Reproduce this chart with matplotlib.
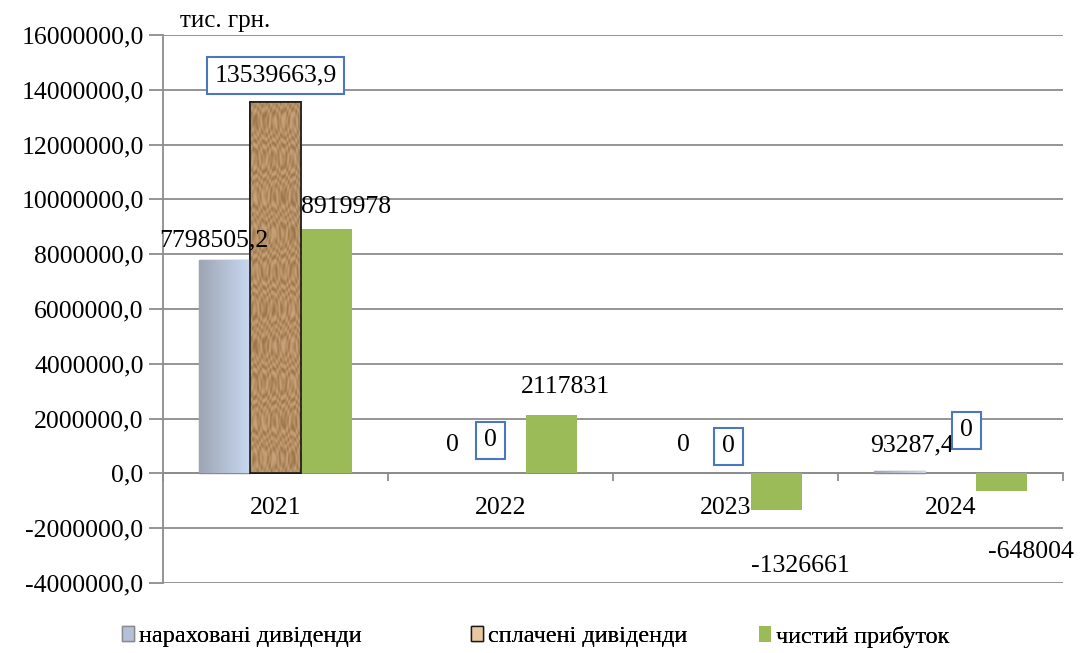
import numpy as np
import matplotlib
matplotlib.use('Agg')
import matplotlib.pyplot as plt
from matplotlib.patches import Patch

plt.rcParams['font.family'] = ['Liberation Serif', 'DejaVu Serif']

# дані
years = ['2021', '2022', '2023', '2024']
narakhovani = [7798505.2, 0, 0, 93287.4]
splacheni = [13539663.9, 0, 0, 0]
prybutok = [8919978, 2117831, -1326661, -648004]

lab_narakh = ['7798505,2', '0', '0', '93287,4']
lab_splach = ['13539663,9', '0', '0', '0']
lab_prybut = ['8919978', '2117831', '-1326661', '-648004']

yticks = np.arange(-4000000, 16000001, 2000000)

fig = plt.figure(figsize=(10.84, 6.53), dpi=100)
ax = fig.add_axes([0.1504, 0.1072, 0.8302, 0.8392])

x = np.arange(len(years))
w = 0.227
b1 = ax.bar(x - w, narakhovani, w, color='#b4c0d8', edgecolor='#8a8a8a', lw=1, zorder=3)
b2 = ax.bar(x, splacheni, w, color='#b08a60', edgecolor='#1a1a1a', lw=1.2, zorder=3)
b3 = ax.bar(x + w, prybutok, w, color='#9bbb59', edgecolor='none', zorder=3)
for r in list(b1) + list(b2):
    if r.get_height() == 0:
        r.set_edgecolor('none')

# градієнт для нарахованих дивідендів
grad = np.linspace(0, 1, 64).reshape(1, -1)
cmap = matplotlib.colors.LinearSegmentedColormap.from_list('g', ['#9ea6b4', '#c9d8f2'])
for r in b1:
    if r.get_height() == 0:
        continue
    x0, y0 = r.get_x(), r.get_y()
    im = ax.imshow(grad, cmap=cmap, aspect='auto', zorder=3.5,
                   extent=(x0, x0 + r.get_width(), y0, y0 + r.get_height()))
    im.set_clip_path(r)

# "зім'ята" текстура для сплачених дивідендів
tx, ty = np.meshgrid(np.linspace(0, 1, 60), np.linspace(0, 1, 300))
tex = np.sin(23 * tx + 9 * np.sin(31 * ty)) * np.cos(41 * ty + 5 * np.sin(17 * tx))
tcmap = matplotlib.colors.LinearSegmentedColormap.from_list('t', ['#9c7448', '#b48e64', '#c9a47a'])
for r in b2:
    if r.get_height() == 0:
        continue
    x0, y0 = r.get_x(), r.get_y()
    im = ax.imshow(tex, cmap=tcmap, aspect='auto', zorder=3.5,
                   extent=(x0, x0 + r.get_width(), y0, y0 + r.get_height()))
    im.set_clip_path(r)
    ax.bar(r.get_x() + r.get_width() / 2, r.get_height(), r.get_width(), fill=False,
           edgecolor='#1a1a1a', lw=1.2, zorder=3.6)

ax.set_xlim(-0.5, 3.5)
ax.set_ylim(-4000000, 16000000)
ax.set_yticks(yticks)
ax.set_yticklabels([f'{v:.1f}'.replace('.', ',') for v in yticks], fontsize=18.5)
ax.yaxis.grid(True, color='#8c8c8c', lw=1.3, zorder=0)
ax.tick_params(axis='y', length=10, width=1.3, color='#8c8c8c', pad=4)

for s in ['top', 'right']:
    ax.spines[s].set_visible(False)
ax.spines['left'].set_color('#8c8c8c')
ax.spines['left'].set_linewidth(1.3)
ax.spines['bottom'].set_position(('data', 0))
ax.spines['bottom'].set_color('#8c8c8c')
ax.spines['bottom'].set_linewidth(1.3)

ax.set_xticks(x)
ax.set_xticklabels(years, fontsize=18.5)
ax.tick_params(axis='x', length=0, pad=17)
ax.set_xticks(np.arange(-0.5, 4, 1), minor=True)
ax.tick_params(axis='x', which='minor', length=6, width=1.3, color='#8c8c8c')

# підписи значень
box = dict(boxstyle='square,pad=0.3', fc='white', ec='#4a78c0', lw=1.5)
offs1 = [(-11, 19), (3, 28), (9, 28), (13, 25)]
offs2 = [(0, 27), (-10, 33), (3, 27), (16, 43)]
offs3 = [(19, 22), (14, 28), (24, -56), (29, -61)]
for i in range(len(years)):
    ax.annotate(lab_narakh[i], (x[i] - w, narakhovani[i]), xytext=offs1[i], textcoords='offset pixels',
                ha='center', va='center', fontsize=18.5, zorder=5)
    ax.annotate(lab_splach[i], (x[i], splacheni[i]), xytext=offs2[i], textcoords='offset pixels',
                ha='center', va='center', fontsize=18.5, bbox=box, zorder=5)
    ax.annotate(lab_prybut[i], (x[i] + w, prybutok[i]), xytext=offs3[i], textcoords='offset pixels',
                ha='center', va='center', fontsize=18.5, zorder=5)

fig.text(0.166, 0.968, 'тис. грн.', fontsize=18, va='center')

# легенда: три окремі елементи
handles = [Patch(fc='#b4c0d8', ec='#8a8a8a'), Patch(fc='#e8c8a0', ec='#1a1a1a'), Patch(fc='#9bbb59')]
names = ['нараховані дивіденди', 'сплачені дивіденди', 'чистий прибуток']
leg_x = [0.1125, 0.4345, 0.7005]
for h, n, lx in zip(handles, names, leg_x):
    lg = fig.legend([h], [n], loc='center left', bbox_to_anchor=(lx, 0.025), frameon=False,
                    prop={'family': 'Liberation Serif', 'size': 17.5},
                    handlelength=0.5, handleheight=0.6, handletextpad=0.2,
                    borderpad=0, borderaxespad=0)
    fig.add_artist(lg)

fig.savefig('out.png', dpi=100)
